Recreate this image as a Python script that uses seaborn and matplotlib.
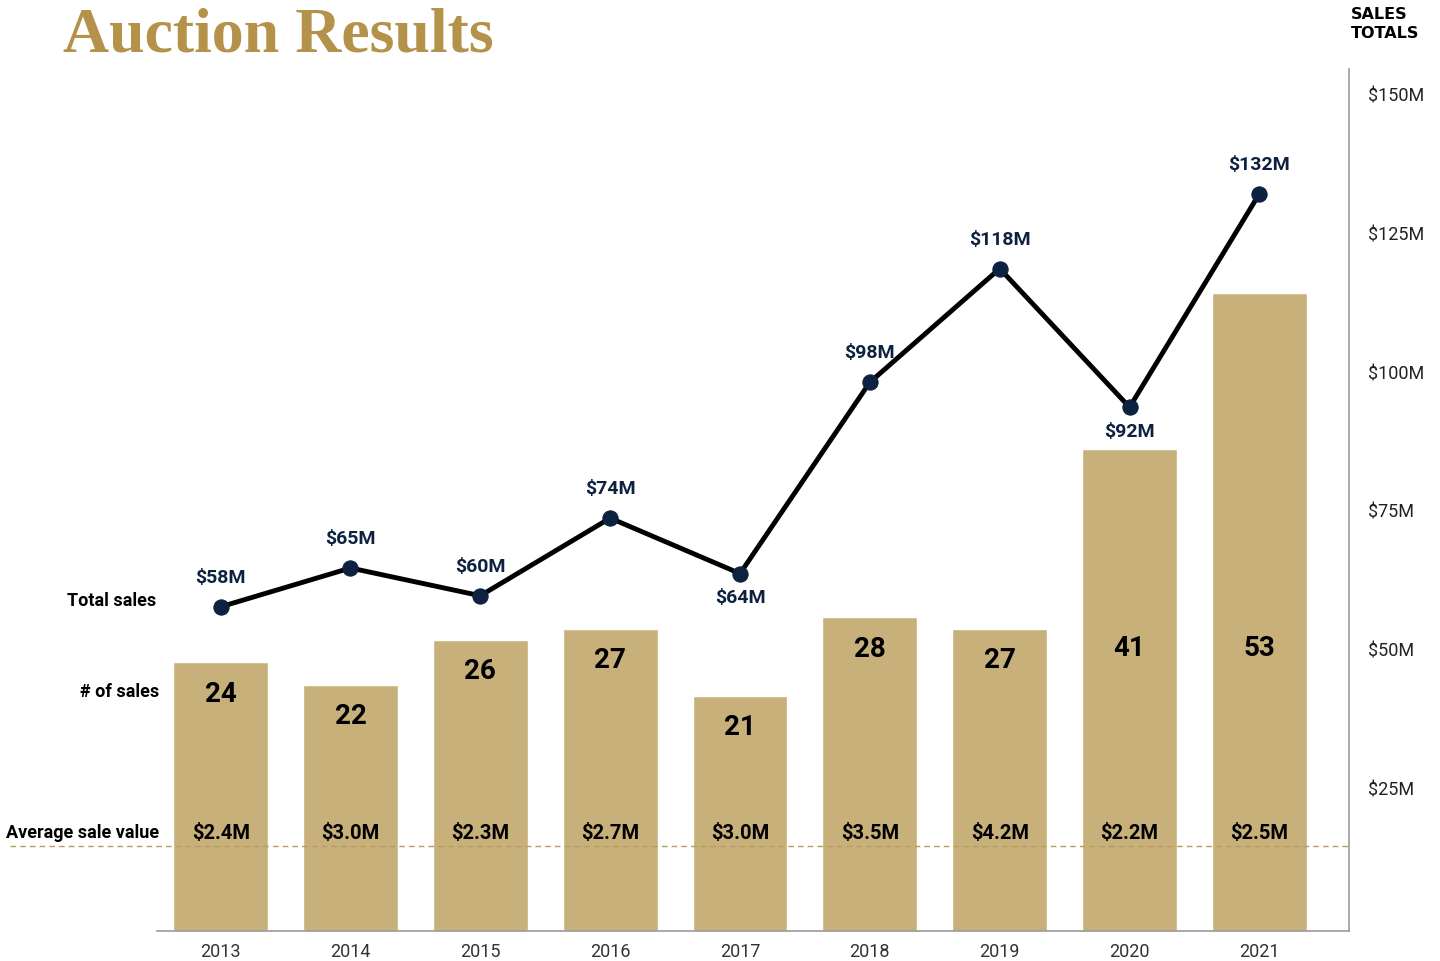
import matplotlib
matplotlib.use("Agg")
import matplotlib.pyplot as plt
import seaborn as sns
import numpy as np
import pandas as pd

# data
years = ['2013', '2014', '2015', '2016', '2017', '2018', '2019', '2020', '2021']
num_sales = [24, 22, 26, 27, 21, 28, 27, 41, 53]
bar_heights = [24, 22, 26, 27, 21, 28, 27, 43, 57]   # drawn height of the bars
total_sales = [58, 65, 60, 74, 64, 98, 118, 92, 132]  # $M
total_drawn = [57.5, 64.5, 59.5, 73.5, 63.5, 98, 118.5, 93.5, 132]
avg_sale = ['$2.4M', '$3.0M', '$2.3M', '$2.7M', '$3.0M', '$3.5M', '$4.2M', '$2.2M', '$2.5M']
label_below = [False, False, False, False, True, False, False, True, False]
right_ticks = [25, 50, 75, 100, 125, 150]

gold = '#c8b07a'
title_gold = '#b5924a'
navy = '#0d2240'

sns.set_theme(style='white')
plt.rcParams['font.family'] = ['Roboto', 'DejaVu Sans']

df = pd.DataFrame({'year': years, 'height': bar_heights})

fig = plt.figure(figsize=(14.4, 9.62), dpi=100)
ax = fig.add_axes([157/1440, 30/962, 1192/1440, 862/962])
sns.barplot(data=df, x='year', y='height', color=gold, width=0.73, saturation=1, ax=ax)
ax.set_xlim(-0.49, 8.69)
ax.set_ylim(0, 862/11.2)
ax.set_xlabel('')
ax.set_ylabel('')
ax.set_yticks([])
ax.tick_params(axis='x', length=0, labelsize=13, colors='#333333', pad=8)
for s in ['top', 'left', 'right']:
    ax.spines[s].set_visible(False)
ax.spines['bottom'].set_color('#999999')
ax.spines['bottom'].set_linewidth(1.2)

for i, n in enumerate(num_sales):
    ax.text(i, min(bar_heights[i] - 2.75, 25.3), str(n), ha='center', va='center',
            fontsize=20, fontweight='bold', color='black')
    ax.text(i, 8.75, avg_sale[i], ha='center', va='center',
            fontsize=14.5, fontweight='bold', color='black')

# dashed guide line
ax.axhline(85/11.2, xmin=-147/1192, xmax=1, color='#b89c60', lw=1, ls=(0, (4, 3)), clip_on=False)

ax2 = ax.twinx()
x = np.arange(len(years))
sns.lineplot(x=x, y=total_drawn, ax=ax2, color='black', lw=3.5, marker='o',
             markersize=11, markerfacecolor=navy, markeredgecolor=navy)
ax2.set_ylim(-0.97, 154.5)
ax2.set_xlim(-0.49, 8.69)
ax2.set_yticks(right_ticks)
ax2.set_yticklabels([f'${t}M' for t in right_ticks])
ax2.tick_params(axis='y', length=0, labelsize=13, colors='#222222', pad=14)
for s in ['top', 'left', 'bottom']:
    ax2.spines[s].set_visible(False)
ax2.spines['right'].set_color('#999999')
ax2.spines['right'].set_linewidth(1.2)

for i, v in enumerate(total_sales):
    off = -4.3 if label_below[i] else 5.4
    ax2.text(i, total_drawn[i] + off, f'${v}M', ha='center', va='center',
             fontsize=14, fontweight='bold', color=navy)

# row labels on the left
fig.text(156/1440, 1 - 601/962, 'Total sales', ha='right', va='center',
         fontsize=13, fontweight='bold', color='black')
fig.text(159/1440, 1 - 692/962, '# of sales', ha='right', va='center',
         fontsize=13, fontweight='bold', color='black')
fig.text(159/1440, 1 - 833/962, 'Average sale value', ha='right', va='center',
         fontsize=13, fontweight='bold', color='black')

fig.text(63/1440, 1 - 37/962, 'Auction Results', ha='left', va='center',
         fontsize=46, fontweight='bold', color=title_gold,
         family=['Liberation Serif', 'DejaVu Serif'])
fig.text(1351/1440, 1 - 24/962, 'SALES\nTOTALS', ha='left', va='center',
         fontsize=11.5, fontweight='bold', color='black', linespacing=1.3,
         family=['DejaVu Sans'])

fig.savefig('out.png', dpi=100)
